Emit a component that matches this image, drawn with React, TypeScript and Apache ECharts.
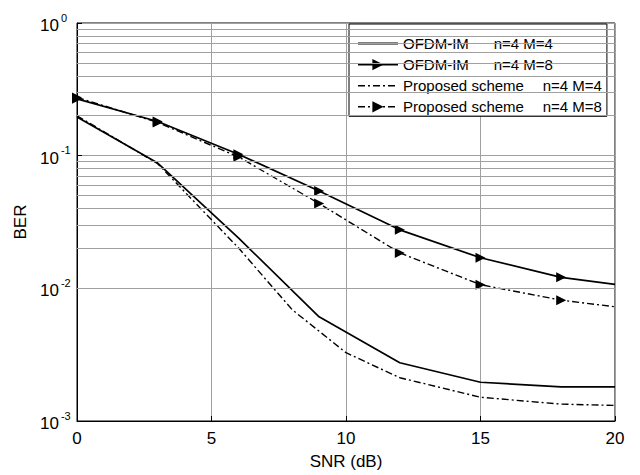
import React, { useEffect, useRef } from "react";
import * as echarts from "echarts";

const snrA = [0, 3, 6, 9, 12, 15, 18, 20];
const berA = [0.196, 0.088, 0.024, 0.0061, 0.00275, 0.00196, 0.00181, 0.00181];

const snrB = [0, 3, 6, 9, 12, 15, 18, 20];
const berB = [0.268, 0.181, 0.1026, 0.0542, 0.0276, 0.017, 0.0121, 0.0107];

const snrC = [0, 3, 6, 8, 10, 12, 15, 18, 20];
const berC = [0.2, 0.087, 0.0202, 0.0069, 0.00327, 0.00212, 0.00151, 0.00134, 0.00131];

const snrD = [0, 3, 6, 9, 12, 15, 18, 20];
const berD = [0.275, 0.178, 0.098, 0.0436, 0.0185, 0.01065, 0.00814, 0.00726];

const schemes = ["OFDM-IM", "OFDM-IM", "Proposed scheme", "Proposed scheme"];
const params = ["n=4 M=4", "n=4 M=8", "n=4 M=4", "n=4 M=8"];
const names = schemes.map((s, i) => s + "   " + params[i]);

const minorGrid = [
  0.002, 0.003, 0.004, 0.005, 0.006, 0.007, 0.008, 0.009,
  0.02, 0.03, 0.04, 0.05, 0.06, 0.07, 0.08, 0.09,
  0.2, 0.3, 0.4, 0.5, 0.6, 0.7, 0.8, 0.9,
];

const FONT = "Liberation Sans";
const DASHDOT = [7, 3, 2, 3];

function pairs(xs: number[], ys: number[], markLast: boolean) {
  return xs.map((x, i) => {
    if (!markLast && x === 20) return { value: [x, ys[i]], symbol: "none" };
    return { value: [x, ys[i]] };
  });
}

export default function App() {
  const ref = useRef<HTMLDivElement>(null);
  useEffect(() => {
    document.body.style.margin = "0";
    const chart = echarts.init(ref.current!, null, { renderer: "svg" });
    chart.setOption({
      animation: false,
      backgroundColor: "#fff",
      textStyle: { fontFamily: FONT },
      grid: {
        left: 77,
        right: 25,
        top: 23,
        bottom: 48.5,
        show: true,
        borderColor: "#000",
        borderWidth: 1,
        backgroundColor: "transparent",
      },
      legend: {
        data: names.map((n, i) => ({
          name: n,
          itemStyle: i % 2 === 0 ? { opacity: 0 } : undefined,
          lineStyle: i < 2 ? { width: 2, color: "#000" } : { width: 1.5, color: "#000" },
        })),
        orient: "vertical",
        left: 349,
        top: 24,
        itemWidth: 40,
        itemHeight: 14,
        itemGap: 6.1,
        padding: [12, 5, 2, 8],
        borderColor: "#000",
        borderWidth: 1,
        backgroundColor: "#fff",
        symbolRotate: -90,
        formatter: (name: string) => {
          const i = names.indexOf(name);
          const key = i < 2 ? "a" : "c";
          return "{" + key + "|" + schemes[i] + "}{p|" + params[i] + "}";
        },
        textStyle: {
          fontFamily: FONT,
          fontSize: 15,
          color: "#000",
          rich: {
            a: { fontFamily: FONT, fontSize: 15, color: "#000", width: 90.7, lineHeight: 15 },
            c: { fontFamily: FONT, fontSize: 15, color: "#000", width: 139.7, lineHeight: 15 },
            p: { fontFamily: FONT, fontSize: 15, color: "#000", lineHeight: 15 },
          },
        },
      },
      xAxis: {
        type: "value",
        min: 0,
        max: 20,
        interval: 5,
        name: "SNR (dB)",
        nameLocation: "middle",
        nameGap: 32,
        nameTextStyle: { fontFamily: FONT, fontSize: 17, color: "#000" },
        axisLine: { lineStyle: { color: "#000", width: 1 } },
        axisTick: { inside: true, length: 5, lineStyle: { color: "#000" } },
        axisLabel: { fontFamily: FONT, fontSize: 17, color: "#000", margin: 9 },
        splitLine: { show: true, lineStyle: { color: "#a0a0a0", width: 1 } },
      },
      yAxis: {
        type: "log",
        min: 0.001,
        max: 1,
        logBase: 10,
        name: "BER",
        nameLocation: "middle",
        nameGap: 46,
        nameRotate: 90,
        nameTextStyle: { fontFamily: FONT, fontSize: 17, color: "#000" },
        axisLine: { show: true, lineStyle: { color: "#000", width: 1 } },
        axisTick: { inside: true, length: 5, lineStyle: { color: "#000" } },
        axisLabel: {
          margin: 37,
          align: "left",
          color: "#000",
          formatter: (v: number) => {
            const e = Math.round(Math.log10(v));
            return "{b|10}{s|" + e + "}";
          },
          rich: {
            b: { fontFamily: FONT, fontSize: 17, color: "#000", verticalAlign: "bottom", lineHeight: 22 },
            s: { fontFamily: FONT, fontSize: 11, color: "#000", verticalAlign: "top", lineHeight: 22, padding: [0, 0, 0, 2] },
          },
        },
        splitLine: { show: true, lineStyle: { color: "#a0a0a0", width: 1 } },
      },
      series: [
        {
          name: "_grid",
          type: "line",
          data: [],
          symbol: "none",
          z: 1,
          silent: true,
          markLine: {
            silent: true,
            symbol: "none",
            label: { show: false },
            lineStyle: { color: "#a0a0a0", width: 1, type: "solid" },
            data: minorGrid.map((v) => ({ yAxis: v })),
          },
        },
        {
          name: names[0],
          type: "line",
          z: 3,
          data: pairs(snrA, berA, true),
          symbol: "none",
          lineStyle: { color: "#000", width: 1.7, type: "solid" },
          itemStyle: { color: "#000" },
        },
        {
          name: names[1],
          type: "line",
          z: 3,
          data: pairs(snrB, berB, false),
          symbol: "triangle",
          symbolSize: 10,
          symbolRotate: -90,
          lineStyle: { color: "#000", width: 1.7, type: "solid" },
          itemStyle: { color: "#000" },
        },
        {
          name: names[2],
          type: "line",
          z: 3,
          data: pairs(snrC, berC, true),
          symbol: "none",
          lineStyle: { color: "#000", width: 1.4, type: DASHDOT },
          itemStyle: { color: "#000" },
        },
        {
          name: names[3],
          type: "line",
          z: 3,
          data: pairs(snrD, berD, false),
          symbol: "triangle",
          symbolSize: 10,
          symbolRotate: -90,
          lineStyle: { color: "#000", width: 1.4, type: DASHDOT },
          itemStyle: { color: "#000" },
        },
      ],
    });
    return () => chart.dispose();
  }, []);
  return (
    <div
      ref={ref}
      style={{ position: "fixed", left: 0, top: 0, width: 640, height: 475 }}
    />
  );
}
